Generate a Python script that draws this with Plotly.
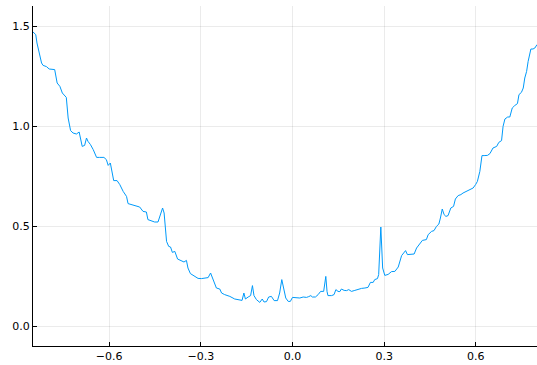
import plotly.graph_objects as go

# Sampled curve: x positions and corresponding values
x_vals = [
    -0.849, -0.840, -0.836, -0.829, -0.821, -0.816, -0.805, -0.796, -0.789, -0.778,
    -0.770, -0.761, -0.753, -0.745, -0.740, -0.734, -0.726, -0.718, -0.707, -0.698,
    -0.688, -0.680, -0.674, -0.669, -0.661, -0.652, -0.641, -0.631, -0.617, -0.609,
    -0.603, -0.596, -0.585, -0.574, -0.565, -0.554, -0.543, -0.538, -0.527, -0.516,
    -0.500, -0.489, -0.478, -0.473, -0.461, -0.451, -0.440, -0.432, -0.425, -0.420,
    -0.416, -0.412, -0.405, -0.399, -0.393, -0.385, -0.376, -0.363, -0.355, -0.347,
    -0.342, -0.334, -0.320, -0.309, -0.298, -0.287, -0.276, -0.268, -0.260, -0.249,
    -0.238, -0.232, -0.222, -0.205, -0.189, -0.172, -0.165, -0.159, -0.154, -0.145,
    -0.137, -0.131, -0.126, -0.118, -0.107, -0.099, -0.093, -0.085, -0.078, -0.069,
    -0.060, -0.049, -0.042, -0.035, -0.028, -0.022, -0.014, -0.007, 0.000, 0.013,
    0.024, 0.035, 0.046, 0.053, 0.060, 0.065, 0.075, 0.084, 0.092, 0.102,
    0.109, 0.113, 0.116, 0.128, 0.136, 0.142, 0.149, 0.155, 0.160, 0.169,
    0.177, 0.184, 0.193, 0.204, 0.215, 0.226, 0.237, 0.247, 0.255, 0.264,
    0.269, 0.278, 0.282, 0.289, 0.295, 0.302, 0.313, 0.324, 0.335, 0.346,
    0.357, 0.370, 0.376, 0.389, 0.398, 0.406, 0.417, 0.425, 0.438, 0.444,
    0.455, 0.463, 0.471, 0.479, 0.484, 0.490, 0.496, 0.502, 0.509, 0.518,
    0.527, 0.533, 0.542, 0.551, 0.558, 0.569, 0.580, 0.591, 0.599, 0.605,
    0.613, 0.620, 0.627, 0.638, 0.646, 0.656, 0.668, 0.675, 0.684, 0.689,
    0.695, 0.704, 0.711, 0.719, 0.727, 0.736, 0.741, 0.749, 0.755, 0.760,
    0.766, 0.771, 0.780, 0.787, 0.793, 0.800,
]
y_vals = [
    1.470, 1.457, 1.415, 1.373, 1.315, 1.303, 1.297, 1.285, 1.285, 1.282,
    1.215, 1.198, 1.165, 1.148, 1.143, 1.040, 0.977, 0.965, 0.960, 0.970,
    0.898, 0.903, 0.940, 0.923, 0.907, 0.882, 0.843, 0.843, 0.843, 0.832,
    0.803, 0.815, 0.727, 0.727, 0.707, 0.673, 0.648, 0.612, 0.607, 0.602,
    0.595, 0.573, 0.570, 0.532, 0.525, 0.520, 0.520, 0.552, 0.590, 0.565,
    0.482, 0.423, 0.398, 0.395, 0.368, 0.373, 0.335, 0.328, 0.320, 0.328,
    0.290, 0.262, 0.248, 0.238, 0.237, 0.240, 0.242, 0.265, 0.235, 0.190,
    0.185, 0.165, 0.157, 0.148, 0.135, 0.128, 0.128, 0.165, 0.135, 0.145,
    0.152, 0.202, 0.152, 0.132, 0.118, 0.135, 0.120, 0.122, 0.145, 0.148,
    0.127, 0.127, 0.165, 0.232, 0.173, 0.140, 0.123, 0.123, 0.143, 0.140,
    0.140, 0.145, 0.143, 0.147, 0.152, 0.145, 0.145, 0.157, 0.173, 0.173,
    0.248, 0.173, 0.152, 0.152, 0.157, 0.182, 0.173, 0.172, 0.185, 0.178,
    0.177, 0.182, 0.173, 0.178, 0.185, 0.188, 0.190, 0.193, 0.218, 0.218,
    0.232, 0.237, 0.257, 0.495, 0.290, 0.253, 0.258, 0.272, 0.273, 0.295,
    0.352, 0.377, 0.357, 0.357, 0.360, 0.390, 0.410, 0.428, 0.432, 0.457,
    0.473, 0.477, 0.498, 0.510, 0.540, 0.585, 0.557, 0.548, 0.552, 0.590,
    0.598, 0.635, 0.652, 0.657, 0.665, 0.673, 0.682, 0.690, 0.707, 0.723,
    0.773, 0.852, 0.852, 0.853, 0.862, 0.890, 0.898, 0.918, 0.927, 0.998,
    1.035, 1.045, 1.045, 1.090, 1.102, 1.112, 1.157, 1.168, 1.190, 1.240,
    1.273, 1.323, 1.385, 1.385, 1.390, 1.407,
]

x_ticks = [-0.6, -0.3, 0.0, 0.3, 0.6]
y_ticks = [0.0, 0.5, 1.0, 1.5]
x_range = [-0.849, 0.8]
y_range = [-0.1, 1.6]

fig = go.Figure(
    go.Scatter(
        x=x_vals,
        y=y_vals,
        mode="lines",
        line=dict(color="#009AFA", width=1),
        showlegend=False,
        hoverinfo="skip",
    )
)

axis_common = dict(
    showgrid=True,
    gridcolor="rgba(0,0,0,0.08)",
    gridwidth=1,
    zeroline=False,
    showline=True,
    linecolor="black",
    linewidth=1,
    mirror=False,
    ticks="inside",
    ticklen=4,
    tickcolor="black",
    tickwidth=1,
    tickformat=".1f",
    tickfont=dict(family="DejaVu Sans", size=11, color="black"),
)

fig.update_xaxes(range=x_range, tickvals=x_ticks, **axis_common)
fig.update_yaxes(range=y_range, tickvals=y_ticks, **axis_common)

fig.update_layout(
    width=537,
    height=365,
    margin=dict(l=33, r=0, t=6, b=19),
    paper_bgcolor="white",
    plot_bgcolor="white",
)

fig.write_html("out.html")
